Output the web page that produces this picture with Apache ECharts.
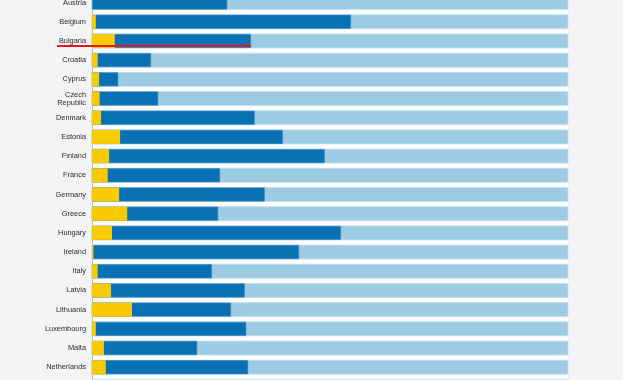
<!DOCTYPE html>
<html><head><meta charset="utf-8">
<script src="https://cdn.jsdelivr.net/npm/echarts@6/dist/echarts.min.js"></script>
<style>html,body{margin:0;padding:0;background:#f4f4f4;overflow:hidden;width:623px;height:380px;}#c{position:absolute;left:0;top:-7.3px;width:623px;height:403px;}</style>
</head><body><div id="c"></div>
<script>
const categories = ['Austria','Belgium','Bulgaria','Croatia','Cyprus','Czech\nRepublic','Denmark','Estonia','Finland','France','Germany','Greece','Hungary','Ireland','Italy','Latvia','Lithuania','Luxembourg','Malta','Netherlands','Poland'];
const darkValues = [28.4,54.4,33.4,12.4,5.5,13.9,34.2,40.1,48.9,26.9,36.3,26.5,52.3,43.5,25.2,32.1,29.2,32.4,22.1,32.8,null];
const yellowValues = [0,0.8,4.8,1.2,1.5,1.6,1.9,5.9,3.6,3.3,5.7,7.4,4.2,0.3,1.2,4.0,8.4,0.8,2.5,2.9,null];
const axisMax = 100;
const highlighted = 'Bulgaria';

const chart = echarts.init(document.getElementById('c'));
chart.setOption({
  animation: false,
  backgroundColor: '#f4f4f4',
  grid: { left: 92, width: 476, top: 0, height: 403, show: true, backgroundColor: '#ffffff', borderWidth: 0 },
  xAxis: { type: 'value', min: 0, max: axisMax, show: false },
  yAxis: {
    type: 'category', data: categories, inverse: true,
    axisLine: { show: true, lineStyle: { color: '#b8b8b8', width: 1 } },
    axisTick: { show: false }, splitLine: { show: false },
    axisLabel: { color: '#2a2a2a', fontSize: 7.4, fontFamily: 'Liberation Sans', margin: 6, lineHeight: 8 }
  },
  series: [
    { type: 'bar', data: darkValues, barWidth: 14, showBackground: true,
      backgroundStyle: { color: '#9ccbe3', borderColor: '#c3e0ef', borderWidth: 1 },
      itemStyle: { color: '#0a70b4', borderColor: '#3d8cc4', borderWidth: 0.6 } },
    { type: 'bar', data: yellowValues, barWidth: 14, barGap: '-100%', itemStyle: { color: '#f8cb00' } }
  ]
});
const idx = categories.indexOf(highlighted);
const p = chart.convertToPixel({ seriesIndex: 0 }, [darkValues[idx], idx]);
chart.setOption({ graphic: [{ type: 'line', z: 100,
  shape: { x1: 57, y1: p[1] + 5, x2: p[0], y2: p[1] + 5 },
  style: { stroke: '#e8141b', lineWidth: 2 } }] });
</script></body></html>
